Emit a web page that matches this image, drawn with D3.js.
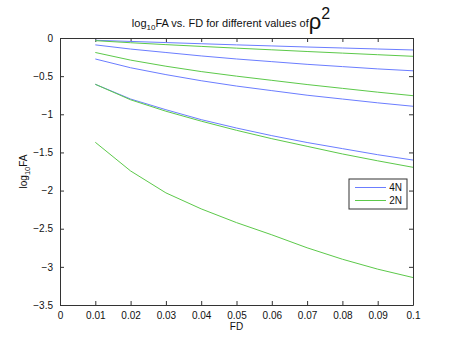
<!DOCTYPE html>
<html lang="en">
<head>
<meta charset="utf-8" />
<title>log10FA vs. FD</title>
<script src="https://d3js.org/d3.v7.min.js"></script>
<style>
    body { margin: 0; background: #fff; }
    svg { display: block; font-family: "Liberation Sans", Arial, sans-serif; }
    .axis path, .axis line { stroke: #333; }
    .axis text { font-size: 10px; fill: #111; }
</style>
</head>
<body>
<svg width="457" height="344"></svg>
<script>
    // FD values (x axis)
    const fd = [0.01, 0.02, 0.03, 0.04, 0.05, 0.06, 0.07, 0.08, 0.09, 0.1];

    // log10 FA
    const blue1 = [-0.03, -0.045, -0.06, -0.075, -0.09, -0.104, -0.118, -0.131, -0.144, -0.157];
    const green1 = [-0.035, -0.062, -0.087, -0.11, -0.133, -0.155, -0.177, -0.198, -0.219, -0.24];
    const blue2 = [-0.09, -0.145, -0.19, -0.235, -0.275, -0.31, -0.345, -0.375, -0.405, -0.43];
    const green2 = [-0.19, -0.29, -0.37, -0.44, -0.5, -0.555, -0.61, -0.66, -0.71, -0.756];
    const blue3 = [-0.275, -0.39, -0.48, -0.56, -0.63, -0.69, -0.75, -0.8, -0.85, -0.895];
    const blue4 = [-0.607, -0.8, -0.94, -1.07, -1.18, -1.28, -1.37, -1.45, -1.53, -1.6];
    const green4 = [-0.607, -0.81, -0.96, -1.09, -1.21, -1.32, -1.42, -1.52, -1.61, -1.695];
    const green5 = [-1.367, -1.743, -2.03, -2.24, -2.42, -2.58, -2.75, -2.9, -3.03, -3.14];

    const xTicks = [0, 0.01, 0.02, 0.03, 0.04, 0.05, 0.06, 0.07, 0.08, 0.09, 0.1];
    const yTicks = [-3.5, -3, -2.5, -2, -1.5, -1, -0.5, 0];

    const blue = "#6b7dff";
    const green = "#5cc94a";

    const series = [
        { v: blue1, c: blue }, { v: blue2, c: blue }, { v: blue3, c: blue }, { v: blue4, c: blue },
        { v: green1, c: green }, { v: green2, c: green }, { v: green4, c: green }, { v: green5, c: green }
    ];

    const svg = d3.select("svg");
    const margin = { top: 38, right: 44, bottom: 39, left: 60 };
    const width = +svg.attr("width");
    const height = +svg.attr("height");

    const x = d3.scaleLinear().domain([0, 0.1]).range([margin.left, width - margin.right]);
    const y = d3.scaleLinear().domain([-3.5, 0]).range([height - margin.bottom, margin.top]);

    const fmt = d => d3.format("")(d).replace("-", "\u2212");

    // bottom axis
    svg.append("g")
        .attr("class", "axis")
        .attr("transform", `translate(0,${y(-3.5)})`)
        .call(d3.axisBottom(x).tickValues(xTicks).tickSizeInner(-4).tickSizeOuter(0).tickPadding(7).tickFormat(fmt));
    // top axis
    svg.append("g")
        .attr("class", "axis")
        .attr("transform", `translate(0,${y(0)})`)
        .call(d3.axisTop(x).tickValues(xTicks).tickSizeInner(-4).tickSizeOuter(0).tickFormat(""));
    // left axis
    svg.append("g")
        .attr("class", "axis")
        .attr("transform", `translate(${x(0)},0)`)
        .call(d3.axisLeft(y).tickValues(yTicks).tickSizeInner(-4).tickSizeOuter(0).tickPadding(7).tickFormat(fmt));
    // right axis
    svg.append("g")
        .attr("class", "axis")
        .attr("transform", `translate(${x(0.1)},0)`)
        .call(d3.axisRight(y).tickValues(yTicks).tickSizeInner(-4).tickSizeOuter(0).tickFormat(""));

    const line = d3.line().x((d, i) => x(fd[i])).y(d => y(d));

    svg.append("g")
        .selectAll("path")
        .data(series)
        .join("path")
        .attr("d", d => line(d.v))
        .attr("fill", "none")
        .attr("stroke", d => d.c)
        .attr("stroke-width", 1);

    // title
    const title = svg.append("text")
        .attr("x", 231)
        .attr("y", 27)
        .attr("text-anchor", "middle")
        .attr("font-size", 11)
        .attr("fill", "#111");
    title.append("tspan").text("log");
    title.append("tspan").attr("font-size", 8).attr("dy", 3).text("10");
    title.append("tspan").attr("dy", -3).text("FA vs. FD for different values of");
    title.append("tspan").attr("font-size", 22).attr("dy", 2).text("\u03c1");
    title.append("tspan").attr("font-size", 16).attr("dy", -10).text("2");

    // x label
    svg.append("text")
        .attr("x", x(0.05))
        .attr("y", 330)
        .attr("text-anchor", "middle")
        .attr("font-size", 10)
        .attr("fill", "#111")
        .text("FD");

    // y label
    const yl = svg.append("text")
        .attr("transform", `translate(27,${y(-1.75)}) rotate(-90)`)
        .attr("text-anchor", "middle")
        .attr("font-size", 10)
        .attr("fill", "#111");
    yl.append("tspan").text("log");
    yl.append("tspan").attr("font-size", 7.5).attr("dy", 3).text("10");
    yl.append("tspan").attr("dy", -3).text("FA");

    // legend
    const legend = svg.append("g").attr("transform", "translate(349,179)");
    legend.append("rect")
        .attr("width", 58).attr("height", 30)
        .attr("fill", "#fff").attr("stroke", "#333");
    [{ n: "4N", c: blue }, { n: "2N", c: green }].forEach((d, i) => {
        legend.append("line")
            .attr("x1", 6).attr("x2", 37)
            .attr("y1", 8.5 + i * 13).attr("y2", 8.5 + i * 13)
            .attr("stroke", d.c);
        legend.append("text")
            .attr("x", 53).attr("y", 12 + i * 13)
            .attr("text-anchor", "end")
            .attr("font-size", 10)
            .attr("fill", "#111")
            .text(d.n);
    });
</script>
</body>
</html>
